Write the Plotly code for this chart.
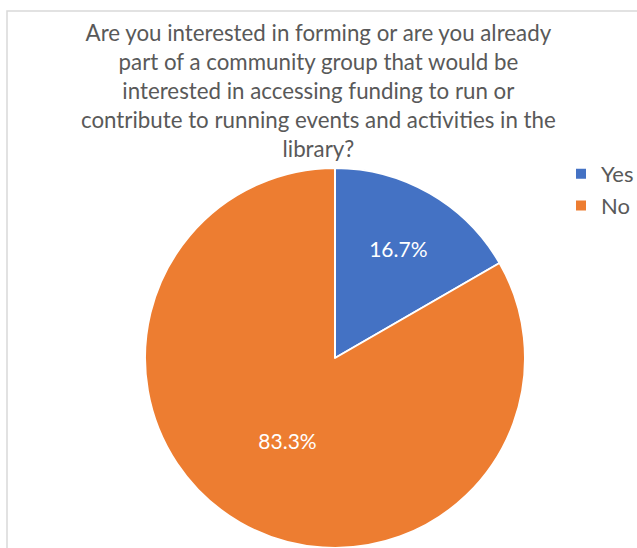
"""Pie chart: community group funding interest."""

import plotly.graph_objects as go

labels = ["Yes", "No"]
values = [1, 5]
colors = ["#4472C4", "#ED7D31"]

title_text = (
    "Are you interested in forming or are you already<br>"
    "part of a community group that would be<br>"
    "interested in accessing funding to run or<br>"
    "contribute to running events and activities in the<br>"
    "library?"
)

W, H = 637, 548

fig = go.Figure(
    go.Pie(
        labels=labels,
        values=values,
        sort=False,
        direction="clockwise",
        rotation=0,
        marker={"colors": colors, "line": {"color": "white", "width": 2}},
        texttemplate="%{percent:.1%}",
        textposition="inside",
        insidetextorientation="horizontal",
        textfont={"family": "Lato", "size": 21, "color": "white"},
        domain={"x": [145 / W, 525 / W], "y": [0, 1 - 168 / H]},
        hoverinfo="label+percent",
    )
)

fig.add_annotation(
    x=318 / W,
    y=1 - 17 / H,
    xref="paper",
    yref="paper",
    xanchor="center",
    yanchor="top",
    text=title_text,
    showarrow=False,
    font={"family": "Lato", "size": 22.3, "color": "#595959"},
    align="center",
)

fig.add_shape(
    type="rect",
    xref="paper",
    yref="paper",
    x0=7 / W,
    x1=1.05,
    y0=-0.05,
    y1=1 - 11 / H,
    line={"color": "#D9D9D9", "width": 1.5},
    fillcolor="rgba(0,0,0,0)",
    layer="below",
)

fig.update_layout(
    width=W,
    height=H,
    margin={"l": 0, "r": 0, "t": 0, "b": 0, "autoexpand": False},
    paper_bgcolor="white",
    plot_bgcolor="white",
    showlegend=True,
    legend={
        "x": 561 / W,
        "y": 1 - 153 / H,
        "xanchor": "left",
        "yanchor": "top",
        "font": {"family": "Lato", "size": 22, "color": "#595959"},
        "itemwidth": 30,
        "tracegroupgap": 0,
    },
)

fig.write_html(
    "out.html",
    config={"displayModeBar": False},
    post_script="document.body.style.margin='0';document.body.style.overflow='hidden';",
)
